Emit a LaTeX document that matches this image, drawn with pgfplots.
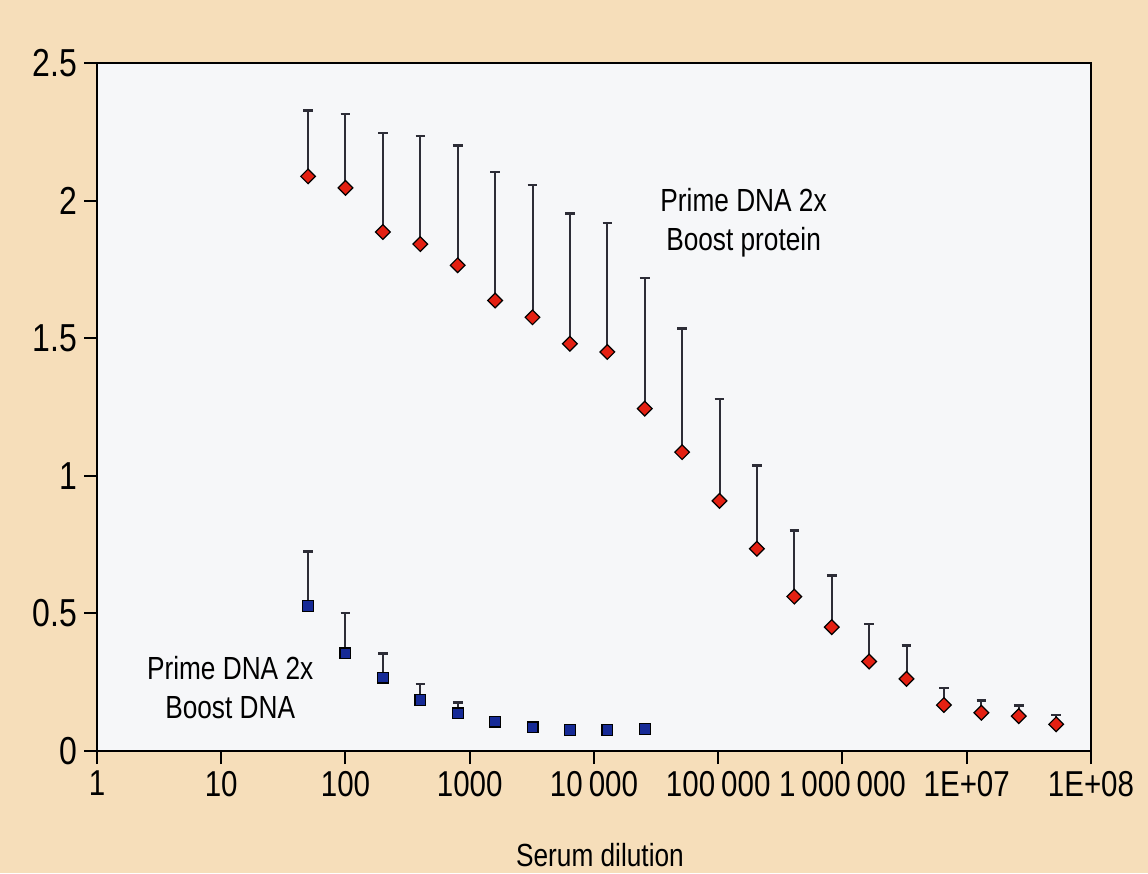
\documentclass[border=0pt]{standalone}
\usepackage{pgfplots}
\pgfplotsset{compat=1.18}
\usepackage{pgfplotstable}
\usepackage{fontspec}
\setmainfont{Liberation Sans}[FakeStretch=0.82]
\definecolor{peach}{RGB}{246,222,186}
\definecolor{plotbg}{RGB}{246,247,249}
\definecolor{dred}{RGB}{228,32,18}
\definecolor{dblue}{RGB}{22,42,150}
\definecolor{ebar}{RGB}{45,45,55}

\pgfplotstableread{
x y e
50 2.088 0.240
100 2.046 0.268
200 1.886 0.360
400 1.842 0.392
800 1.765 0.435
1600 1.637 0.468
3200 1.576 0.481
6400 1.480 0.473
12800 1.450 0.469
25600 1.244 0.475
51200 1.086 0.449
102400 0.909 0.370
204800 0.735 0.302
409600 0.561 0.240
819200 0.450 0.188
1638400 0.325 0.137
3276800 0.262 0.121
6553600 0.167 0.063
13107200 0.139 0.044
26214400 0.127 0.038
52428800 0.097 0.034
}\protein

\pgfplotstableread{
x y e
50 0.527 0.198
100 0.355 0.146
200 0.267 0.088
400 0.185 0.058
800 0.137 0.039
1600 0.107 0
3200 0.086 0
6400 0.076 0
12800 0.076 0
25600 0.079 0
}\dna

\begin{document}
\begin{tikzpicture}
\fill[peach] (-48.5pt,-61pt) rectangle (525.5pt,375.5pt);
\begin{axis}[
  at={(0,0)}, anchor=south west,
  scale only axis, width=497pt, height=344pt,
  xmode=log, xmin=1, xmax=1e8, ymin=0, ymax=2.5,
  axis background/.style={fill=plotbg},
  axis line style={line width=1pt, black},
  xtick={1,10,100,1000,10000,100000,1000000,10000000,100000000},
  xticklabels={1,10,100,1000,10\,000,100\,000,1\,000\,000,1E+07,1E+08},
  ytick={0,0.5,1,1.5,2,2.5},
  yticklabels={0,0.5,1,1.5,2,2.5},
  xminorticks=false,
  tick align=outside, major tick length=6.5pt,
  tick style={line width=1pt, black},
  xtick pos=bottom, ytick pos=left,
  xticklabel style={font=\fontsize{18}{20}\selectfont},
  yticklabel style={font=\fontsize{19.5}{21}\selectfont},
  xlabel={Serum dilution},
  xlabel style={font=\fontsize{16}{18}\selectfont, at={(axis description cs:0.506,0)}, anchor=center, yshift=-52pt},
]
\addplot+[only marks, mark=square*, mark size=2.6pt,
  mark options={rotate=45, fill=dred, draw=black, line width=0.6pt},
  error bars/.cd, y dir=plus, y explicit,
  error bar style={line width=1pt, ebar},
  error mark options={rotate=90, mark size=2.4pt, line width=1.2pt, ebar}]
  table[x=x, y=y, y error=e]{\protein};
\addplot+[only marks, mark=square*, mark size=2.7pt,
  mark options={fill=dblue, draw=black, line width=0.6pt},
  error bars/.cd, y dir=plus, y explicit,
  error bar style={line width=1pt, ebar},
  error mark options={rotate=90, mark size=2.4pt, line width=1.2pt, ebar}]
  table[x=x, y=y, y error=e]{\dna};
\node[font=\fontsize{16}{19.5}\selectfont, align=center] at (axis cs:1.6e5,1.92) {Prime DNA 2x\\Boost protein};
\node[font=\fontsize{16}{19.5}\selectfont, align=center] at (axis cs:11.8,0.231) {Prime DNA 2x\\Boost DNA};
\end{axis}
\end{tikzpicture}
\end{document}
